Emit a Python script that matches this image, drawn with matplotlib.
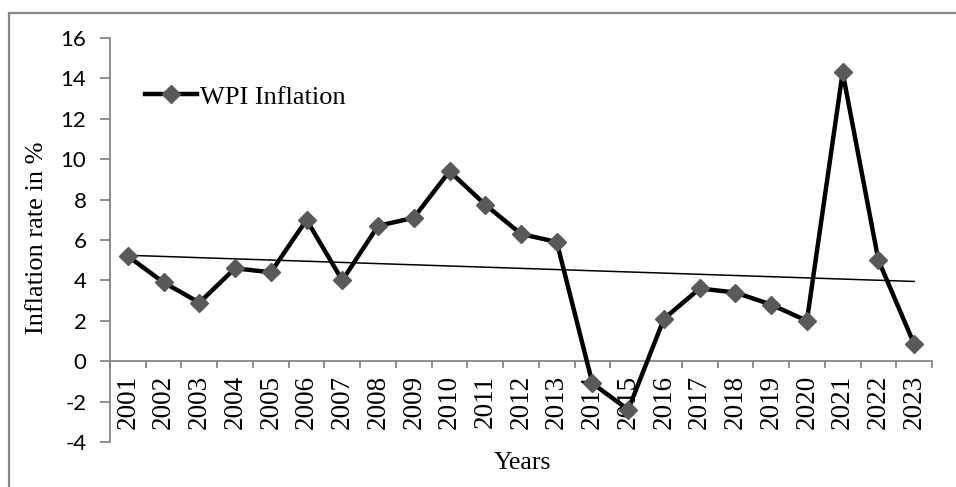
import numpy as np
import matplotlib
matplotlib.use("Agg")
from matplotlib import pyplot as plt
from matplotlib.patches import Rectangle

# WPI inflation by year
years = [str(y) for y in range(2001, 2024)]
wpi = [5.2, 3.9, 2.9, 4.6, 4.4, 7.0, 4.0, 6.7, 7.1, 9.4, 7.75, 6.3, 5.9,
       -1.1, -2.4, 2.1, 3.6, 3.4, 2.8, 2.0, 14.3, 5.0, 0.85]
y_ticks = [-4, -2, 0, 2, 4, 6, 8, 10, 12, 14, 16]

serif = "Liberation Serif"
grey = "#868686"

fig = plt.figure(figsize=(9.56, 4.87), dpi=100)
ax = fig.add_axes([110 / 956, 1 - 442 / 487, 822 / 956, 404 / 487])

x = np.arange(len(years))
ax.plot(x, wpi, color="black", lw=3.2, marker="D", markersize=9.5,
        markerfacecolor="#595959", markeredgecolor="#595959",
        label="WPI Inflation", zorder=3)

# linear trend line like excel
k, b = np.polyfit(x, wpi, 1)
ax.plot(x, k * x + b, color="black", lw=1.1, zorder=2)

ax.set_xlim(-0.5, len(years) - 0.5)
ax.set_ylim(-4, 16)

for s in ["top", "right"]:
    ax.spines[s].set_visible(False)
ax.spines["left"].set_color(grey)
ax.spines["left"].set_linewidth(1.3)
ax.spines["bottom"].set_position(("data", 0))
ax.spines["bottom"].set_color(grey)
ax.spines["bottom"].set_linewidth(1.3)

ax.set_yticks(y_ticks)
ax.set_yticklabels([str(v) for v in y_ticks], fontfamily="Lato", fontsize=16)
ax.tick_params(axis="y", direction="out", length=7, width=1.3, color=grey, pad=10)

ax.set_xticks(np.arange(-0.5, len(years)))
ax.set_xticklabels([])
ax.tick_params(axis="x", which="major", direction="out", length=5, width=1.3, color=grey)
ax.set_xticks(x, minor=True)
ax.set_xticklabels(years, minor=True, rotation=90, fontfamily=serif, fontsize=19.5)
ax.tick_params(axis="x", which="minor", length=0, pad=10)

ax.set_ylabel("Inflation rate in %", fontfamily=serif, fontsize=19)
ax.yaxis.set_label_coords(-0.076, 0.505)
fig.text(522 / 956, 1 - 463 / 487, "Years", fontfamily=serif, fontsize=18.5,
         ha="center", va="center")

ax.legend(loc="center left", bbox_to_anchor=(0.042, 0.854), frameon=False,
          prop={"family": serif, "size": 19}, handlelength=2.0,
          handletextpad=0.1, borderpad=0, borderaxespad=0)

# outer chart-area border (cut off at right and bottom in the reference)
fig.patches.append(Rectangle((9 / 956, -0.2), 1.2, 1.2 - 13 / 487,
                             transform=fig.transFigure, fill=False,
                             edgecolor=grey, lw=1.6))

fig.savefig("out.png", dpi=100)
